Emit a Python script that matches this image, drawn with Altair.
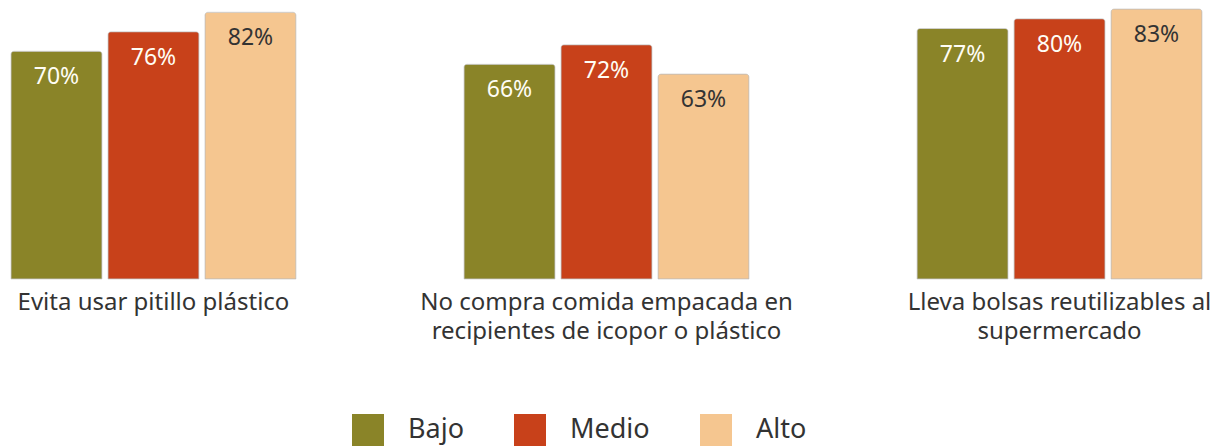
import altair as alt
import pandas as pd

categorias = [
    "Evita usar pitillo plástico",
    "No compra comida empacada en|recipientes de icopor o plástico",
    "Lleva bolsas reutilizables al|supermercado",
]
niveles = ["Bajo", "Medio", "Alto"]
colores = ["#8A8428", "#C8411A", "#F5C690"]
bajo = [70, 66, 77]
medio = [76, 72, 80]
alto = [82, 63, 83]

rows = []
for i, c in enumerate(categorias):
    for n, vals in zip(niveles, [bajo, medio, alto]):
        rows.append({"categoria": c, "nivel": n, "valor": vals[i], "etiqueta": f"{vals[i]}%"})
df = pd.DataFrame(rows)

font = "Noto Sans"

x = alt.X(
    "categoria:N",
    sort=categorias,
    scale=alt.Scale(paddingInner=0.371, paddingOuter=0),
    axis=alt.Axis(
        title=None, ticks=False, domain=False, labelAngle=0,
        labelExpr="split(datum.label, '|')",
        labelFontSize=24, labelFont=font, labelColor="#333333",
        labelLineHeight=29, labelPadding=11, labelBaseline="top",
        labelLimit=0,
    ),
)
xo = alt.XOffset("nivel:N", sort=niveles, scale=alt.Scale(paddingInner=0.062, paddingOuter=0))
y = alt.Y("valor:Q", scale=alt.Scale(domain=[0, 83], nice=False, zero=True), axis=None)

bars = alt.Chart(df).mark_bar(
    cornerRadiusTopLeft=3, cornerRadiusTopRight=3,
    stroke="#bbbbbb", strokeWidth=0.8, strokeOpacity=0.7,
).encode(
    x=x, xOffset=xo, y=y,
    color=alt.Color(
        "nivel:N", sort=niveles,
        scale=alt.Scale(domain=niveles, range=colores),
        legend=alt.Legend(
            title=None, orient="none", legendX=341, legendY=405,
            direction="horizontal", symbolType="square", symbolSize=1024,
            symbolStrokeWidth=0, symbolOpacity=1,
            labelFontSize=27, labelFont=font, labelColor="#333333",
            labelOffset=24, columnPadding=50,
        ),
    ),
)

text = alt.Chart(df).mark_text(
    baseline="middle", align="center", dy=26, fontSize=23, font=font,
).encode(
    x=x, xOffset=xo, y=y,
    text="etiqueta:N",
    color=alt.condition("datum.nivel == 'Alto'", alt.value("#333333"), alt.value("#fffdf5")),
)

chart = alt.layer(bars, text).properties(
    width=1191, height=270,
    padding={"left": 2, "top": 0, "right": 0, "bottom": 0},
    background="white",
).configure_view(strokeWidth=0, stroke=None)

chart.save("out.html", embed_options={"renderer": "svg", "actions": False})
